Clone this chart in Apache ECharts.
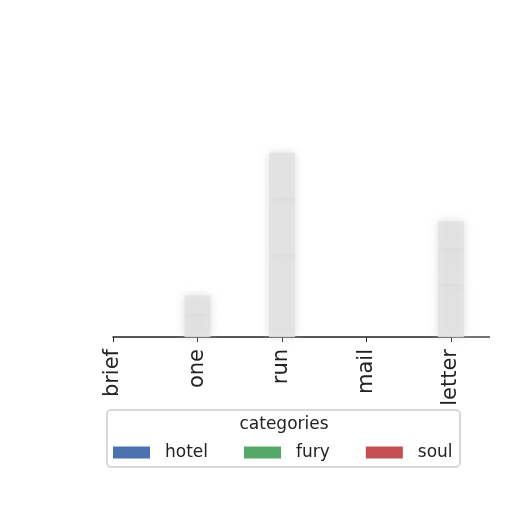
<!DOCTYPE html>
<html><head><meta charset="utf-8">
<script src="https://cdn.jsdelivr.net/npm/echarts@6/dist/echarts.min.js"></script>
<style>html,body{margin:0;padding:0;background:#fff}#c{width:512px;height:512px}</style>
</head><body><div id="c"></div>
<script>
const categories = ['brief','one','run','mail','letter'];
const hotel = [0, 0.8, 2.8, 0, 1.8];
const fury  = [0, 0.6, 1.9, 0, 1.2];
const soul  = [0, 0,   1.5, 0, 0.9];
const seriesNames = ['hotel','fury','soul'];
const legendColors = ['#4c72b0','#55a868','#c44e52'];
const seriesData = [hotel, fury, soul];

const chart = echarts.init(document.getElementById('c'));
const barStyle = {color:'rgba(226,226,226,0.85)', shadowBlur:8, shadowColor:'rgba(205,205,205,0.8)'};
chart.setOption({
  backgroundColor:'#fff',
  animation:false,
  grid:{left:113, right:61, top:40, bottom:175},
  xAxis:{type:'category', data:categories, boundaryGap:false,
    axisLine:{lineStyle:{color:'#222', width:1.5}},
    axisTick:{length:5, lineStyle:{color:'#222'}},
    axisLabel:{rotate:90, fontSize:21, color:'#222', fontFamily:'DejaVu Sans', margin:12}},
  yAxis:{type:'value', min:0, max:10, show:false},
  legend:{show:true, top:439, left:108, itemWidth:37, itemHeight:12, itemGap:36,
    textStyle:{fontSize:17, color:'#222', fontFamily:'DejaVu Sans', padding:[0,0,0,10]},
    data: seriesNames.map((n,i)=>({name:n, icon:'rect', itemStyle:{color:legendColors[i], shadowBlur:0, borderWidth:0}}))},
  graphic:[
    {type:'rect', shape:{x:107,y:410,width:353,height:57,r:4}, style:{fill:'#fff', stroke:'#ccc', lineWidth:1.5}, z:-1},
    {type:'text', x:284, y:416, style:{text:'categories', fontSize:17, fill:'#222', fontFamily:'DejaVu Sans', align:'center'}},
    {type:'line', shape:{x1:451,y1:337,x2:490,y2:337}, style:{stroke:'#444', lineWidth:1.5}}
  ],
  series: seriesNames.map((n,i)=>({name:n, type:'bar', stack:'a', barWidth:26, data:seriesData[i], itemStyle:barStyle}))
});
</script></body></html>
